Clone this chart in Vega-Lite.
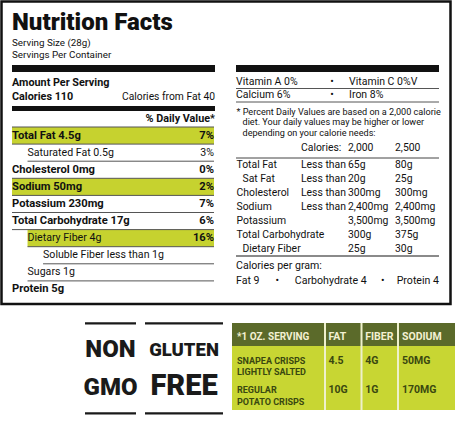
{
"$schema":"https://vega.github.io/schema/vega-lite/v6.json",
"width":455,"height":421,"padding":0,"autosize":{"type":"none"},
"background":"#ffffff",
"config":{"view":{"stroke":null},"axis":{"disable":true},"legend":{"disable":true},
 "text":{"font":"Roboto","fontSize":10.6,"fill":"#111111","baseline":"middle","align":"left"}},
"datasets":{
 "frame":[{"label":"Nutrition Facts"}],
 "bars":[{"bar":"serving","panel":"left"},{"bar":"serving","panel":"right"},{"bar":"calories","panel":"left"}],
 "header":[
  {"line":"title","panel":"left","side":"left","text":"Nutrition Facts"},
  {"line":"serving size","panel":"left","side":"left","text":"Serving Size (28g)"},
  {"line":"servings per container","panel":"left","side":"left","text":"Servings Per Container"},
  {"line":"amount","panel":"left","side":"left","text":"Amount Per Serving"},
  {"line":"calories","panel":"left","side":"left","text":"Calories 110"},
  {"line":"calories","panel":"left","side":"right","text":"Calories from Fat 40"},
  {"line":"daily value","panel":"left","side":"right","text":"% Daily Value*"}],
 "nutrients":[
  {"n":"Total Fat","label":"Total Fat 4.5g","level":0,"dv":"7%","highlight":true},
  {"n":"Saturated Fat","label":"Saturated Fat 0.5g","level":1,"dv":"3%","highlight":false},
  {"n":"Cholesterol","label":"Cholesterol 0mg","level":0,"dv":"0%","highlight":false},
  {"n":"Sodium","label":"Sodium 50mg","level":0,"dv":"2%","highlight":true},
  {"n":"Potassium","label":"Potassium 230mg","level":0,"dv":"7%","highlight":false},
  {"n":"Total Carbohydrate","label":"Total Carbohydrate 17g","level":0,"dv":"6%","highlight":false},
  {"n":"Dietary Fiber","label":"Dietary Fiber 4g","level":1,"dv":"16%","highlight":true},
  {"n":"Soluble Fiber","label":"Soluble Fiber less than 1g","level":2,"dv":"","highlight":false},
  {"n":"Sugars","label":"Sugars 1g","level":1,"dv":"","highlight":false},
  {"n":"Protein","label":"Protein 5g","level":0,"dv":"","highlight":false}],
 "vitamins":[
  {"row":"Vitamin A / Vitamin C","panel":"right","left":"Vitamin A 0%","right":"Vitamin C 0%V"},
  {"row":"Calcium / Iron","panel":"right","left":"Calcium 6%","right":"Iron 8%"}],
 "footnote":[
  {"line":1,"level":0,"text":"* Percent Daily Values are based on a 2,000 calorie"},
  {"line":2,"level":1,"text":"diet. Your daily values may be higher or lower"},
  {"line":3,"level":1,"text":"depending on your calorie needs:"}],
 "dvHeader":[{"row":"Calories","limit":"Calories:","v2000":"2,000","v2500":"2,500"}],
 "dvTable":[
  {"n":"Total Fat","level":0,"limit":"Less than","v2000":"65g","v2500":"80g"},
  {"n":"Sat Fat","level":1,"limit":"Less than","v2000":"20g","v2500":"25g"},
  {"n":"Cholesterol","level":0,"limit":"Less than","v2000":"300mg","v2500":"300mg"},
  {"n":"Sodium","level":0,"limit":"Less than","v2000":"2,400mg","v2500":"2,400mg"},
  {"n":"Potassium","level":0,"limit":"","v2000":"3,500mg","v2500":"3,500mg"},
  {"n":"Total Carbohydrate","level":0,"limit":"","v2000":"300g","v2500":"375g"},
  {"n":"Dietary Fiber","level":1,"limit":"","v2000":"25g","v2500":"30g"}],
 "calPerGram":[
  {"line":"heading","item":"heading","panel":"right","text":"Calories per gram:"},
  {"line":"values","item":"Fat","panel":"right","text":"Fat 9"},
  {"line":"values","item":"Carbohydrate","panel":"right","text":"Carbohydrate 4"},
  {"line":"values","item":"Protein","panel":"right","text":"Protein 4"}],
 "calPerGramSeparators":[{"between":"Fat | Carbohydrate","line":"values"},{"between":"Carbohydrate | Protein","line":"values"}],
 "badges":[
  {"badge":"NON GMO","line":"top","text":"NON"},
  {"badge":"NON GMO","line":"bottom","text":"GMO"},
  {"badge":"GLUTEN FREE","line":"top","text":"GLUTEN"},
  {"badge":"GLUTEN FREE","line":"bottom","text":"FREE"}],
 "compareParts":[{"table":"comparison","part":"header"},{"table":"comparison","part":"body"}],
 "compareHeader":[
  {"row":"header","col":"SERVING","text":"*1 OZ. SERVING"},
  {"row":"header","col":"FAT","text":"FAT"},
  {"row":"header","col":"FIBER","text":"FIBER"},
  {"row":"header","col":"SODIUM","text":"SODIUM"}],
 "compare":[
  {"key":"Snapea","product":"SNAPEA CRISPS\nLIGHTLY SALTED","FAT":"4.5","FIBER":"4G","SODIUM":"50MG"},
  {"key":"Regular","product":"REGULAR\nPOTATO CRISPS","FAT":"10G","FIBER":"1G","SODIUM":"170MG"}]
},
"layer":[
 {"data":{"name":"frame"},"mark":{"type":"rect","filled":false,"stroke":"#111111","strokeWidth":2.5},
  "encoding":{"x":{"field":"label","type":"nominal","scale":{"type":"band","range":[1.5,450.5],"paddingInner":0,"paddingOuter":0}},
   "y":{"field":"label","type":"nominal","scale":{"type":"band","range":[1.5,304],"paddingInner":0,"paddingOuter":0}}}},

 {"data":{"name":"nutrients"},"transform":[{"filter":"datum.highlight"}],"mark":{"type":"rect","fill":"#c6d22f"},
  "encoding":{"x":{"field":"level","type":"quantitative","scale":{"domain":[0,13],"range":[12,214],"nice":false,"zero":false}},"x2":{"datum":13},
   "y":{"field":"n","type":"nominal","scale":{"type":"band","domain":["Total Fat","Saturated Fat","Cholesterol","Sodium","Potassium","Total Carbohydrate","Dietary Fiber","Soluble Fiber","Sugars","Protein"],"range":[127,298],"paddingInner":0,"paddingOuter":0}}}},

 {"data":{"name":"nutrients"},"transform":[{"filter":"datum.n != 'Protein'"}],"mark":{"type":"rule","stroke":"#555555","strokeWidth":1},
  "encoding":{"x":{"field":"level","type":"quantitative","scale":{"domain":[0,13],"range":[12,214],"nice":false,"zero":false}},"x2":{"datum":13},
   "y":{"field":"n","type":"nominal","bandPosition":1,"scale":{"type":"band","domain":["Total Fat","Saturated Fat","Cholesterol","Sodium","Potassium","Total Carbohydrate","Dietary Fiber","Soluble Fiber","Sugars","Protein"],"range":[127,298],"paddingInner":0,"paddingOuter":0}}}},

 {"data":{"name":"nutrients"},"transform":[{"filter":"datum.n == 'Total Fat'"}],"mark":{"type":"rule","stroke":"#555555","strokeWidth":1},
  "encoding":{"x":{"field":"level","type":"quantitative","scale":{"domain":[0,13],"range":[12,214],"nice":false,"zero":false}},"x2":{"datum":13},
   "y":{"field":"n","type":"nominal","bandPosition":0,"scale":{"type":"band","domain":["Total Fat","Saturated Fat","Cholesterol","Sodium","Potassium","Total Carbohydrate","Dietary Fiber","Soluble Fiber","Sugars","Protein"],"range":[127,298],"paddingInner":0,"paddingOuter":0}}}},

 {"data":{"name":"nutrients"},"transform":[{"filter":"datum.level == 0"}],"mark":{"type":"text","fontWeight":"bold","fontSize":11.2},
  "encoding":{"x":{"field":"level","type":"quantitative","scale":{"domain":[0,13],"range":[12,214],"nice":false,"zero":false}},
   "y":{"field":"n","type":"nominal","bandPosition":0.5,"scale":{"type":"band","domain":["Total Fat","Saturated Fat","Cholesterol","Sodium","Potassium","Total Carbohydrate","Dietary Fiber","Soluble Fiber","Sugars","Protein"],"range":[127,298],"paddingInner":0,"paddingOuter":0}},
   "text":{"field":"label","type":"nominal"}}},

 {"data":{"name":"nutrients"},"transform":[{"filter":"datum.level > 0"}],"mark":{"type":"text","fontSize":10.6},
  "encoding":{"x":{"field":"level","type":"quantitative","scale":{"domain":[0,13],"range":[12,214],"nice":false,"zero":false}},
   "y":{"field":"n","type":"nominal","bandPosition":0.5,"scale":{"type":"band","domain":["Total Fat","Saturated Fat","Cholesterol","Sodium","Potassium","Total Carbohydrate","Dietary Fiber","Soluble Fiber","Sugars","Protein"],"range":[127,298],"paddingInner":0,"paddingOuter":0}},
   "text":{"field":"label","type":"nominal"}}},

 {"data":{"name":"nutrients"},"transform":[{"filter":"datum.dv != '' && (datum.level == 0 || datum.highlight)"}],"mark":{"type":"text","fontWeight":"bold","fontSize":11.2,"align":"right"},
  "encoding":{"x":{"datum":13,"type":"quantitative","scale":{"domain":[0,13],"range":[12,214],"nice":false,"zero":false}},
   "y":{"field":"n","type":"nominal","bandPosition":0.5,"scale":{"type":"band","domain":["Total Fat","Saturated Fat","Cholesterol","Sodium","Potassium","Total Carbohydrate","Dietary Fiber","Soluble Fiber","Sugars","Protein"],"range":[127,298],"paddingInner":0,"paddingOuter":0}},
   "text":{"field":"dv","type":"nominal"}}},

 {"data":{"name":"nutrients"},"transform":[{"filter":"datum.dv != '' && datum.level > 0 && !datum.highlight"}],"mark":{"type":"text","fontSize":10.6,"align":"right"},
  "encoding":{"x":{"datum":13,"type":"quantitative","scale":{"domain":[0,13],"range":[12,214],"nice":false,"zero":false}},
   "y":{"field":"n","type":"nominal","bandPosition":0.5,"scale":{"type":"band","domain":["Total Fat","Saturated Fat","Cholesterol","Sodium","Potassium","Total Carbohydrate","Dietary Fiber","Soluble Fiber","Sugars","Protein"],"range":[127,298],"paddingInner":0,"paddingOuter":0}},
   "text":{"field":"dv","type":"nominal"}}},

 {"data":{"name":"bars"},"transform":[{"filter":"datum.bar == 'serving'"}],"mark":{"type":"rect","fill":"#111111"},
  "encoding":{"x":{"field":"panel","type":"nominal","scale":{"type":"band","domain":["left","right"],"range":[12,439],"paddingInner":0.09375,"paddingOuter":0}},
   "y":{"field":"bar","type":"nominal","scale":{"type":"band","domain":["serving"],"range":[65,72],"paddingInner":0,"paddingOuter":0}}}},

 {"data":{"name":"bars"},"transform":[{"filter":"datum.bar == 'calories'"}],"mark":{"type":"rect","fill":"#111111"},
  "encoding":{"x":{"field":"panel","type":"nominal","scale":{"type":"band","domain":["left","right"],"range":[12,439],"paddingInner":0.09375,"paddingOuter":0}},
   "y":{"field":"bar","type":"nominal","scale":{"type":"band","domain":["calories"],"range":[106,111],"paddingInner":0,"paddingOuter":0}}}},

 {"data":{"name":"header"},"transform":[{"filter":"datum.line == 'title'"}],"mark":{"type":"text","fontWeight":900,"fontSize":24},
  "encoding":{"x":{"field":"panel","type":"nominal","bandPosition":0,"scale":{"type":"band","domain":["left","right"],"range":[12,439],"paddingInner":0.09375,"paddingOuter":0}},
   "y":{"field":"line","type":"nominal","scale":{"type":"point","domain":["title"],"range":[23,23]}},
   "text":{"field":"text","type":"nominal"}}},

 {"data":{"name":"header"},"transform":[{"filter":"datum.line == 'serving size' || datum.line == 'servings per container'"}],"mark":{"type":"text","fontSize":9.8},
  "encoding":{"x":{"field":"panel","type":"nominal","bandPosition":0,"scale":{"type":"band","domain":["left","right"],"range":[12,439],"paddingInner":0.09375,"paddingOuter":0}},
   "y":{"field":"line","type":"nominal","scale":{"type":"point","domain":["serving size","servings per container"],"range":[43,54.5],"padding":0}},
   "text":{"field":"text","type":"nominal"}}},

 {"data":{"name":"header"},"transform":[{"filter":"(datum.line == 'amount' || datum.line == 'calories') && datum.side == 'left'"}],"mark":{"type":"text","fontSize":10.8,"fontWeight":"bold"},
  "encoding":{"x":{"field":"panel","type":"nominal","bandPosition":0,"scale":{"type":"band","domain":["left","right"],"range":[12,439],"paddingInner":0.09375,"paddingOuter":0}},
   "y":{"field":"line","type":"nominal","scale":{"type":"point","domain":["amount","calories"],"range":[83,97],"padding":0}},
   "text":{"field":"text","type":"nominal"}}},

 {"data":{"name":"header"},"transform":[{"filter":"datum.line == 'calories' && datum.side == 'right'"}],"mark":{"type":"text","fontSize":10.3,"align":"right"},
  "encoding":{"x":{"field":"panel","type":"nominal","bandPosition":1,"scale":{"type":"band","domain":["left","right"],"range":[12,439],"paddingInner":0.09375,"paddingOuter":0}},
   "y":{"field":"line","type":"nominal","scale":{"type":"point","domain":["amount","calories"],"range":[83,97],"padding":0}},
   "text":{"field":"text","type":"nominal"}}},

 {"data":{"name":"header"},"transform":[{"filter":"datum.line == 'daily value'"}],"mark":{"type":"text","fontSize":10.8,"fontWeight":"bold","align":"right"},
  "encoding":{"x":{"field":"panel","type":"nominal","bandPosition":1,"scale":{"type":"band","domain":["left","right"],"range":[12,439],"paddingInner":0.09375,"paddingOuter":0}},
   "y":{"field":"line","type":"nominal","scale":{"type":"point","domain":["daily value"],"range":[118.5,118.5]}},
   "text":{"field":"text","type":"nominal"}}},

 {"data":{"name":"vitamins"},"mark":{"type":"rule","stroke":"#555555","strokeWidth":1},
  "encoding":{"x":{"datum":0,"type":"quantitative","scale":{"domain":[0,1],"range":[236,439],"nice":false,"zero":false}},"x2":{"datum":1},
   "y":{"field":"row","type":"nominal","bandPosition":1,"scale":{"type":"band","domain":["Vitamin A / Vitamin C","Calcium / Iron"],"range":[75,102],"paddingInner":0,"paddingOuter":0}}}},

 {"data":{"name":"vitamins"},"mark":{"type":"text","fontSize":10.5},
  "encoding":{"x":{"field":"panel","type":"nominal","bandPosition":0,"scale":{"type":"band","domain":["left","right"],"range":[12,439],"paddingInner":0.09375,"paddingOuter":0}},
   "y":{"field":"row","type":"nominal","bandPosition":0.5,"scale":{"type":"band","domain":["Vitamin A / Vitamin C","Calcium / Iron"],"range":[75,102],"paddingInner":0,"paddingOuter":0}},
   "text":{"field":"left","type":"nominal"}}},

 {"data":{"name":"vitamins"},"mark":{"type":"text","fontSize":10.5,"align":"center"},
  "encoding":{"x":{"field":"panel","type":"nominal","bandPosition":0.473,"scale":{"type":"band","domain":["left","right"],"range":[12,439],"paddingInner":0.09375,"paddingOuter":0}},
   "y":{"field":"row","type":"nominal","bandPosition":0.5,"scale":{"type":"band","domain":["Vitamin A / Vitamin C","Calcium / Iron"],"range":[75,102],"paddingInner":0,"paddingOuter":0}},
   "text":{"value":"•"}}},

 {"data":{"name":"vitamins"},"mark":{"type":"text","fontSize":10.5},
  "encoding":{"x":{"field":"panel","type":"nominal","bandPosition":0.557,"scale":{"type":"band","domain":["left","right"],"range":[12,439],"paddingInner":0.09375,"paddingOuter":0}},
   "y":{"field":"row","type":"nominal","bandPosition":0.5,"scale":{"type":"band","domain":["Vitamin A / Vitamin C","Calcium / Iron"],"range":[75,102],"paddingInner":0,"paddingOuter":0}},
   "text":{"field":"right","type":"nominal"}}},

 {"data":{"name":"footnote"},"mark":{"type":"text","fontSize":9.1},
  "encoding":{"x":{"field":"level","type":"quantitative","scale":{"domain":[0,1],"range":[236.5,242.5],"nice":false,"zero":false}},
   "y":{"field":"line","type":"ordinal","scale":{"type":"point","domain":[1,2,3],"range":[112,132.5],"padding":0}},
   "text":{"field":"text","type":"nominal"}}},

 {"data":{"name":"dvHeader"},"transform":[{"fold":["limit","v2000","v2500"],"as":["col","text"]}],"mark":{"type":"text","fontSize":10.4},
  "encoding":{"x":{"field":"col","type":"nominal","scale":{"type":"point","domain":["limit","v2000","v2500"],"range":[301,395],"padding":0}},
   "y":{"field":"row","type":"nominal","scale":{"type":"point","domain":["Calories"],"range":[148,148]}},
   "text":{"field":"text","type":"nominal"}}},

 {"data":{"name":"dvTable"},"transform":[{"filter":"datum.n == 'Total Fat'"}],"mark":{"type":"rule","stroke":"#444444","strokeWidth":1},
  "encoding":{"x":{"datum":0,"type":"quantitative","scale":{"domain":[0,1],"range":[236,439],"nice":false,"zero":false}},"x2":{"datum":1},
   "y":{"field":"n","type":"nominal","bandPosition":0,"scale":{"type":"band","domain":["Total Fat","Sat Fat","Cholesterol","Sodium","Potassium","Total Carbohydrate","Dietary Fiber"],"range":[158,256],"paddingInner":0,"paddingOuter":0}}}},

 {"data":{"name":"dvTable"},"transform":[{"filter":"datum.n == 'Dietary Fiber'"}],"mark":{"type":"rule","stroke":"#8a8a8a","strokeWidth":2},
  "encoding":{"x":{"datum":0,"type":"quantitative","scale":{"domain":[0,1],"range":[236,439],"nice":false,"zero":false}},"x2":{"datum":1},
   "y":{"field":"n","type":"nominal","bandPosition":1,"scale":{"type":"band","domain":["Total Fat","Sat Fat","Cholesterol","Sodium","Potassium","Total Carbohydrate","Dietary Fiber"],"range":[158,256],"paddingInner":0,"paddingOuter":0}}}},

 {"data":{"name":"dvTable"},"mark":{"type":"text","fontSize":10.4},
  "encoding":{"x":{"field":"level","type":"quantitative","scale":{"domain":[0,1],"range":[236.5,242.5],"nice":false,"zero":false}},
   "y":{"field":"n","type":"nominal","bandPosition":0.5,"scale":{"type":"band","domain":["Total Fat","Sat Fat","Cholesterol","Sodium","Potassium","Total Carbohydrate","Dietary Fiber"],"range":[158,256],"paddingInner":0,"paddingOuter":0}},
   "text":{"field":"n","type":"nominal"}}},

 {"data":{"name":"dvTable"},"transform":[{"fold":["limit","v2000","v2500"],"as":["col","text"]},{"filter":"datum.text != ''"}],"mark":{"type":"text","fontSize":10.4},
  "encoding":{"x":{"field":"col","type":"nominal","scale":{"type":"point","domain":["limit","v2000","v2500"],"range":[301,395],"padding":0}},
   "y":{"field":"n","type":"nominal","bandPosition":0.5,"scale":{"type":"band","domain":["Total Fat","Sat Fat","Cholesterol","Sodium","Potassium","Total Carbohydrate","Dietary Fiber"],"range":[158,256],"paddingInner":0,"paddingOuter":0}},
   "text":{"field":"text","type":"nominal"}}},

 {"data":{"name":"calPerGram"},"transform":[{"filter":"datum.item == 'heading' || datum.item == 'Fat'"}],"mark":{"type":"text","fontSize":10.6},
  "encoding":{"x":{"field":"panel","type":"nominal","bandPosition":0,"scale":{"type":"band","domain":["left","right"],"range":[12,439],"paddingInner":0.09375,"paddingOuter":0}},
   "y":{"field":"line","type":"nominal","scale":{"type":"point","domain":["heading","values"],"range":[266.3,280.5],"padding":0}},
   "text":{"field":"text","type":"nominal"}}},

 {"data":{"name":"calPerGram"},"transform":[{"filter":"datum.item == 'Carbohydrate'"}],"mark":{"type":"text","fontSize":10.6},
  "encoding":{"x":{"field":"panel","type":"nominal","bandPosition":0.29,"scale":{"type":"band","domain":["left","right"],"range":[12,439],"paddingInner":0.09375,"paddingOuter":0}},
   "y":{"field":"line","type":"nominal","scale":{"type":"point","domain":["heading","values"],"range":[266.3,280.5],"padding":0}},
   "text":{"field":"text","type":"nominal"}}},

 {"data":{"name":"calPerGram"},"transform":[{"filter":"datum.item == 'Protein'"}],"mark":{"type":"text","fontSize":10.6,"align":"right"},
  "encoding":{"x":{"field":"panel","type":"nominal","bandPosition":1,"scale":{"type":"band","domain":["left","right"],"range":[12,439],"paddingInner":0.09375,"paddingOuter":0}},
   "y":{"field":"line","type":"nominal","scale":{"type":"point","domain":["heading","values"],"range":[266.3,280.5],"padding":0}},
   "text":{"field":"text","type":"nominal"}}},

 {"data":{"name":"calPerGramSeparators"},"mark":{"type":"text","fontSize":10.5,"align":"center"},
  "encoding":{"x":{"field":"between","type":"nominal","scale":{"type":"point","domain":["Fat | Carbohydrate","Carbohydrate | Protein"],"range":[277.3,382.7],"padding":0}},
   "y":{"field":"line","type":"nominal","scale":{"type":"point","domain":["heading","values"],"range":[266.3,280.5],"padding":0}},
   "text":{"value":"•"}}},

 {"data":{"name":"badges"},"transform":[{"filter":"datum.badge == 'NON GMO'"}],"mark":{"type":"rule","stroke":"#1a1a1a","strokeWidth":2.2},
  "encoding":{"x":{"datum":0,"type":"quantitative","scale":{"domain":[0,1],"range":[85,136],"nice":false,"zero":false}},"x2":{"datum":1},
   "y":{"field":"line","type":"nominal","scale":{"type":"point","domain":["top","bottom"],"range":[323.3,413.3],"padding":0}}}},

 {"data":{"name":"badges"},"transform":[{"filter":"datum.badge == 'GLUTEN FREE'"}],"mark":{"type":"rule","stroke":"#1a1a1a","strokeWidth":2.2},
  "encoding":{"x":{"datum":0,"type":"quantitative","scale":{"domain":[0,1],"range":[145,223],"nice":false,"zero":false}},"x2":{"datum":1},
   "y":{"field":"line","type":"nominal","scale":{"type":"point","domain":["top","bottom"],"range":[323.3,413.3],"padding":0}}}},

 {"data":{"name":"badges"},"transform":[{"filter":"datum.badge == 'NON GMO'"}],"mark":{"type":"text","fontSize":24,"fontWeight":900,"align":"center","fill":"#1a1a1a"},
  "encoding":{"x":{"field":"badge","type":"nominal","scale":{"type":"point","domain":["NON GMO"],"range":[110.5,110.5]}},
   "y":{"field":"line","type":"nominal","scale":{"type":"point","domain":["top","bottom"],"range":[349.5,388],"padding":0}},
   "text":{"field":"text","type":"nominal"}}},

 {"data":{"name":"badges"},"transform":[{"filter":"datum.text == 'GLUTEN'"}],"mark":{"type":"text","fontSize":18.5,"fontWeight":900,"align":"center","fill":"#1a1a1a"},
  "encoding":{"x":{"field":"badge","type":"nominal","scale":{"type":"point","domain":["GLUTEN FREE"],"range":[184,184]}},
   "y":{"field":"line","type":"nominal","scale":{"type":"point","domain":["top","bottom"],"range":[349.5,388],"padding":0}},
   "text":{"field":"text","type":"nominal"}}},

 {"data":{"name":"badges"},"transform":[{"filter":"datum.text == 'FREE'"}],"mark":{"type":"text","fontSize":29,"fontWeight":900,"align":"center","fill":"#1a1a1a"},
  "encoding":{"x":{"field":"badge","type":"nominal","scale":{"type":"point","domain":["GLUTEN FREE"],"range":[184,184]}},
   "y":{"field":"line","type":"nominal","scale":{"type":"point","domain":["top","bottom"],"range":[349.5,385.5],"padding":0}},
   "text":{"field":"text","type":"nominal"}}},

 {"data":{"name":"compareParts"},"transform":[{"filter":"datum.part == 'header'"}],"mark":{"type":"rect","fill":"#5b6a2a"},
  "encoding":{"x":{"field":"table","type":"nominal","scale":{"type":"band","range":[232,455],"paddingInner":0,"paddingOuter":0}},
   "y":{"field":"part","type":"nominal","scale":{"type":"band","domain":["header"],"range":[323,346],"paddingInner":0,"paddingOuter":0}}}},

 {"data":{"name":"compareParts"},"transform":[{"filter":"datum.part == 'body'"}],"mark":{"type":"rect","fill":"#c8d633"},
  "encoding":{"x":{"field":"table","type":"nominal","scale":{"type":"band","range":[232,455],"paddingInner":0,"paddingOuter":0}},
   "y":{"field":"part","type":"nominal","scale":{"type":"band","domain":["body"],"range":[346,410],"paddingInner":0,"paddingOuter":0}}}},

 {"data":{"name":"compareHeader"},"transform":[{"filter":"datum.col != 'SERVING'"}],"mark":{"type":"rule","stroke":"#eef0cc","strokeWidth":2},
  "encoding":{"x":{"field":"col","type":"nominal","scale":{"type":"point","domain":["FAT","FIBER","SODIUM"],"range":[325,398],"padding":0}},
   "y":{"datum":0,"type":"quantitative","scale":{"domain":[0,1],"range":[323,410],"nice":false,"zero":false}},"y2":{"datum":1}}},

 {"data":{"name":"compareHeader"},"transform":[{"filter":"datum.col == 'SERVING'"}],"mark":{"type":"text","fontSize":10,"fontWeight":"bold","fill":"#f3f0d2","baseline":"alphabetic"},
  "encoding":{"x":{"field":"col","type":"nominal","scale":{"type":"point","domain":["SERVING"],"range":[237,237]}},
   "y":{"field":"row","type":"nominal","scale":{"type":"point","domain":["header"],"range":[339.7,339.7]}},
   "text":{"field":"text","type":"nominal"}}},

 {"data":{"name":"compareHeader"},"transform":[{"filter":"datum.col != 'SERVING'"}],"mark":{"type":"text","fontSize":10.5,"fontWeight":"bold","fill":"#f3f0d2","baseline":"alphabetic"},
  "encoding":{"x":{"field":"col","type":"nominal","scale":{"type":"point","domain":["FAT","FIBER","SODIUM"],"range":[328.5,402],"padding":0}},
   "y":{"field":"row","type":"nominal","scale":{"type":"point","domain":["header"],"range":[339.7,339.7]}},
   "text":{"field":"text","type":"nominal"}}},

 {"data":{"name":"compare"},"mark":{"type":"text","fontSize":9,"fontWeight":"bold","fill":"#3a4810","baseline":"alphabetic","lineBreak":"\n","lineHeight":11.5},
  "encoding":{"x":{"field":"key","type":"nominal","scale":{"type":"point","domain":["Snapea","Regular"],"range":[237,237]}},
   "y":{"field":"key","type":"nominal","scale":{"type":"point","domain":["Snapea","Regular"],"range":[363.7,393],"padding":0}},
   "text":{"field":"product","type":"nominal"}}},

 {"data":{"name":"compare"},"transform":[{"fold":["FAT","FIBER","SODIUM"],"as":["nutrient","value"]}],"mark":{"type":"text","fontSize":10.5,"fontWeight":"bold","fill":"#3a4810","baseline":"alphabetic"},
  "encoding":{"x":{"field":"nutrient","type":"nominal","scale":{"type":"point","domain":["FAT","FIBER","SODIUM"],"range":[328.5,402],"padding":0}},
   "y":{"field":"key","type":"nominal","scale":{"type":"point","domain":["Snapea","Regular"],"range":[363.7,393],"padding":0}},
   "text":{"field":"value","type":"nominal"}}}
],
"resolve":{"scale":{"x":"independent","y":"independent"}}
}
